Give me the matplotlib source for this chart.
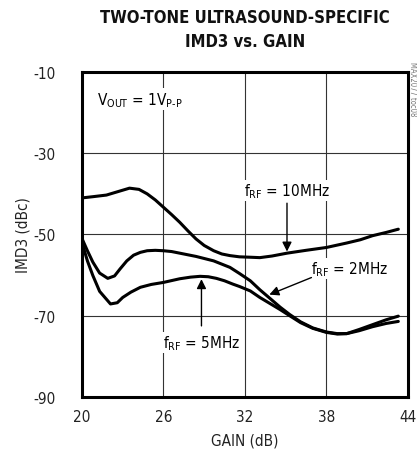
#!/usr/bin/env python

import matplotlib
matplotlib.use("agg")
import matplotlib.pyplot as plt

# Two-tone IMD3 vs gain
gain_10 = [20.0, 20.8, 21.8, 22.7, 23.5, 24.2, 24.8, 25.4, 26.0, 26.6, 27.2, 27.8,
           28.4, 29.0, 29.7, 30.3, 30.9, 31.6, 32.4, 33.1, 34.0, 35.1, 36.5, 38.0,
           39.5, 40.5, 41.4, 42.4, 43.3]
imd3_10 = [-41.0, -40.7, -40.3, -39.4, -38.6, -38.9, -40.0, -41.5, -43.3, -45.1, -47.0, -49.1,
           -51.1, -52.7, -54.0, -54.8, -55.2, -55.5, -55.6, -55.7, -55.3, -54.6, -53.9, -53.2,
           -52.1, -51.3, -50.3, -49.5, -48.7]

gain_2 = [20.0, 20.4, 20.8, 21.3, 21.9, 22.4, 22.8, 23.3, 23.8, 24.3, 24.8, 25.4,
          26.0, 26.6, 27.2, 28.4, 29.7, 30.9, 31.6, 32.4, 33.1, 33.8, 34.6, 35.3,
          36.1, 37.0, 38.0, 38.8, 39.5, 40.4, 41.4, 42.4, 43.3]
imd3_2 = [-51.0, -54.0, -56.8, -59.5, -60.8, -60.2, -58.5, -56.5, -55.1, -54.4, -54.0, -53.9,
          -54.0, -54.2, -54.6, -55.4, -56.5, -58.1, -59.6, -61.4, -63.6, -65.6, -67.9, -69.7,
          -71.5, -73.0, -74.0, -74.4, -74.4, -73.7, -72.7, -71.9, -71.4]

gain_5 = [20.0, 20.4, 20.8, 21.3, 22.1, 22.6, 23.0, 23.6, 24.3, 25.1, 26.0, 27.2,
          28.0, 28.7, 29.3, 29.9, 30.5, 31.1, 31.6, 32.4, 33.1, 33.8, 34.6, 35.3,
          36.1, 37.0, 38.0, 38.8, 39.5, 40.4, 41.4, 42.4, 43.3]
imd3_5 = [-52.0, -56.5, -60.1, -64.0, -67.1, -66.8, -65.5, -64.2, -63.0, -62.3, -61.8, -60.9,
          -60.5, -60.3, -60.4, -60.8, -61.4, -62.2, -62.8, -63.9, -65.5, -66.9, -68.5, -70.0,
          -71.7, -73.1, -74.1, -74.5, -74.4, -73.4, -72.2, -71.0, -70.1]

x_ticks = [20, 26, 32, 38, 44]
y_ticks = [-10, -30, -50, -70, -90]

plt.rcParams["font.family"] = ["DejaVu Sans"]
plt.rcParams["font.stretch"] = "condensed"
plt.rcParams["axes.unicode_minus"] = False
plt.rcParams["mathtext.fontset"] = "custom"
plt.rcParams["mathtext.rm"] = "DejaVu Sans:stretch=condensed"

fig = plt.figure(figsize=(4.17, 4.56), dpi=100)
ax = fig.add_axes([0.1966, 0.1272, 0.7814, 0.7128])

for g, v in ((gain_10, imd3_10), (gain_2, imd3_2), (gain_5, imd3_5)):
    ax.plot(g, v, color="black", linewidth=2.2, solid_capstyle="round",
            solid_joinstyle="round", zorder=3)

ax.set_xlim(20, 44)
ax.set_ylim(-90, -10)
ax.set_xticks(x_ticks)
ax.set_yticks(y_ticks)
ax.tick_params(axis="both", length=0, labelsize=11, colors="#222222")
ax.tick_params(axis="y", pad=19)
ax.tick_params(axis="x", pad=9)
ax.grid(color="#333333", linewidth=0.8)
for s in ax.spines.values():
    s.set_linewidth(2.2)

ax.set_xlabel("GAIN (dB)", fontsize=11, color="#222222", labelpad=6)
ax.set_ylabel("IMD3 (dBc)", fontsize=11, color="#222222", labelpad=2)

fig.text(0.588, 0.934, "TWO-TONE ULTRASOUND-SPECIFIC\nIMD3 vs. GAIN",
         ha="center", va="center", fontsize=12, fontweight="bold",
         linespacing=1.4, color="#111111")

box = dict(facecolor="white", edgecolor="none", pad=1.0)
ax.text(21.1, -16.7, r"V$_\mathregular{OUT}$ = 1V$_\text{P-P}$", fontsize=11,
        va="center", ha="left", bbox=box, zorder=4)
ax.text(35.1, -39.2, r"f$_\mathregular{RF}$ = 10MHz", fontsize=11,
        va="center", ha="center", bbox=box, zorder=4)
ax.text(39.7, -58.4, r"f$_\mathregular{RF}$ = 2MHz", fontsize=11,
        va="center", ha="center", bbox=box, zorder=4)
ax.text(28.8, -76.6, r"f$_\mathregular{RF}$ = 5MHz", fontsize=11,
        va="center", ha="center", bbox=box, zorder=4)

arrow = dict(arrowstyle="-|>", color="black", lw=1.0, mutation_scale=14,
             shrinkA=0, shrinkB=0)
ax.annotate("", xy=(35.1, -54.2), xytext=(35.1, -42.3), arrowprops=arrow, zorder=5)
ax.annotate("", xy=(33.8, -64.8), xytext=(36.9, -60.6), arrowprops=arrow, zorder=5)
ax.annotate("", xy=(28.8, -61.0), xytext=(28.8, -72.5), arrowprops=arrow, zorder=5)

fig.text(0.99, 0.865, "MAX2077 toc08", rotation=270, fontsize=5.5, color="#777777",
         ha="center", va="top")

fig.savefig("out.png", dpi=100)
